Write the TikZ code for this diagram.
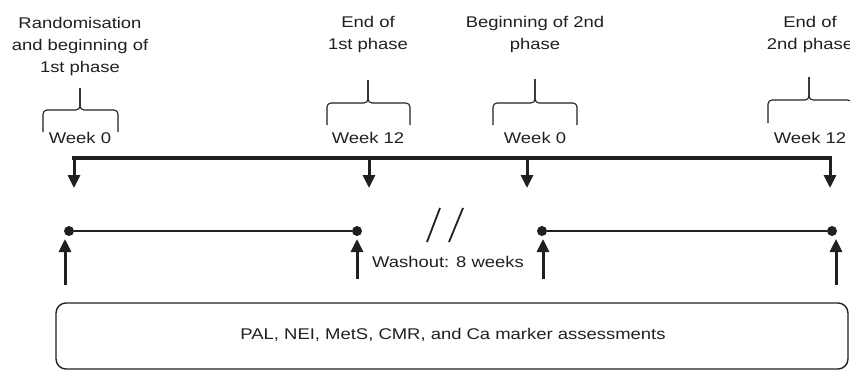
\documentclass[tikz,border=0pt]{standalone}
\usepackage{fontspec}
\setmainfont{Liberation Sans}
\usepackage{tikz}
\usetikzlibrary{arrows.meta}
\definecolor{ink}{HTML}{231F20}
\newcommand{\weekbrace}[6]{%
\draw[brc] (#1,#5) |- (#3,#4) -- (#3,#6);
\draw[brc] (#2,#5) |- (#3,#4) -- (#3,#6);}

\begin{document}
\begin{tikzpicture}[x=1pt,y=-1pt,
  lbl/.style={font=\fontsize{15.5}{22}\selectfont,xscale=1.19,inner sep=0,text=ink,align=center},
  brc/.style={draw=ink,line width=1.1pt,rounded corners=4pt},
  bar/.style={draw=ink,line width=3.5pt,line cap=rect},
  down/.style={draw=ink,line width=3pt,-{Triangle[width=12pt,length=13pt]}},
  up/.style={draw=ink,line width=3pt,-{Triangle[width=12pt,length=13pt]}},
  dot/.style={circle,fill=ink,inner sep=0,minimum size=10pt},
  seg/.style={draw=ink,line width=1.2pt}]
\useasboundingbox (0,0) rectangle (850,370);
\node[lbl,anchor=north] (rand) at (80,17) {Randomisation\\and beginning of\\1st phase};
\node[lbl,anchor=north] (end1) at (368,16.5) {End of\\1st phase};
\node[lbl,anchor=north] (beg2) at (535,16.5) {Beginning of 2nd\\phase};
\node[lbl,anchor=north] (end2) at (810,16.5) {End of\\2nd phase};
\weekbrace{43}{118}{80}{110}{132}{88}
\weekbrace{327}{410}{368}{103}{125}{80}
\weekbrace{493}{577}{535}{103}{125}{79}
\weekbrace{768}{852}{809}{100}{123}{77}
\node[lbl,anchor=base] (wk1) at (80,143) {Week 0};
\node[lbl,anchor=base] (wk2) at (368,143) {Week 12};
\node[lbl,anchor=base] (wk3) at (535,143) {Week 0};
\node[lbl,anchor=base] (wk4) at (810,143) {Week 12};
\foreach \x/\n in {74/1,369/2,527/3,830/4}{
  \coordinate (top\n) at (\x,158);
  \coordinate (tip\n) at (\x,188);}
\draw[bar] (top1) -- (top4);
\foreach \n in {1,...,4} \draw[down] (top\n) -- (tip\n);
\node[dot] (p1) at (69,231) {};
\node[dot] (p2) at (357,231) {};
\node[dot] (p3) at (542,231) {};
\node[dot] (p4) at (832,231) {};
\draw[seg] (p1) -- (p2);
\draw[seg] (p3) -- (p4);
\foreach \x/\b/\n in {65/285/1,357/279/2,543/279/3,836/285/4}{
  \coordinate (foot\n) at (\x,\b);
  \coordinate (head\n) at (\x,239);}
\foreach \n in {1,...,4} \draw[up] (foot\n) -- (head\n);
\draw[ink,line width=1.8pt] (440,208) -- (427,242);
\draw[ink,line width=1.8pt] (463,208) -- (449,242);
\node[lbl,anchor=base] (wash) at (448,267) {Washout: 8 weeks};
\draw[ink,line width=1.4pt,rounded corners=10pt] (56,303) rectangle (848,369);
\node[lbl] (assess) at (453,335) {PAL, NEI, MetS, CMR, and Ca marker assessments};
\end{tikzpicture}
\end{document}
